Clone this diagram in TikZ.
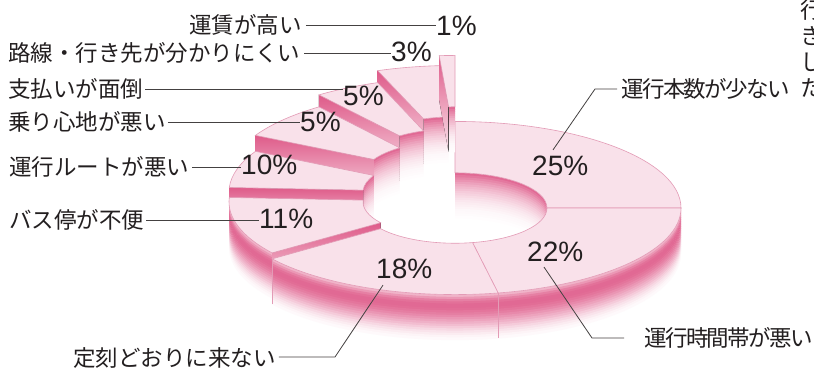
\documentclass[tikz,border=0pt]{standalone}
\usepackage{fontspec}
\newfontfamily\jpfont{Noto Sans CJK JP}
\newfontfamily\jpnarrow[LetterSpace=-7.0]{Noto Sans CJK JP}
\newfontfamily\numfont{Liberation Sans}
\definecolor{wallc}{HTML}{DA4479}
\definecolor{topc}{HTML}{F9E1EA}
\definecolor{edgec}{HTML}{E39BB6}
\definecolor{txtc}{HTML}{231F20}
\def\dCX{455}\def\dCY{-208}\def\dRO{226}\def\dRI{92}\def\dK{0.383}\def\dH{45}
\def\outprof{40,55,68,76,80,80,78,74,69,63,56,49,42,35,28,21,15,10,6,3}
\def\inprof{80,72,64,57,50,44,38,33,28,24,20,16,13,10,8,6,4,3,2,1}
\tikzset{
  jp/.style={font=\jpfont\fontsize{22.5}{26}\selectfont, text=txtc, inner sep=0pt},
  jpn/.style={font=\jpnarrow\fontsize{22.5}{26}\selectfont, text=txtc, inner sep=0pt},
  pct/.style={font=\numfont\fontsize{28}{30}\selectfont, text=txtc, inner sep=0pt},
  leader/.style={draw=txtc!85, line width=0.8pt},
  topface/.style={fill=topc, draw=edgec, line width=0.6pt},
  crease/.style={draw=edgec, line width=0.6pt}
}
\newcommand\dtopface[3]{%
  \filldraw[topface] ({\dCX+\dRO*cos(#1)},{\dCY+\dK*\dRO*sin(#1)+#3})
    arc[start angle=#1,end angle=#2,x radius=\dRO,y radius={\dK*\dRO}]
    -- ({\dCX+\dRI*cos(#2)},{\dCY+\dK*\dRI*sin(#2)+#3})
    arc[start angle=#2,end angle=#1,x radius=\dRI,y radius={\dK*\dRI}] -- cycle;}
\newcommand\dwall[5]{%
  \foreach \pp [count=\jj from 0] in #5 {%
    \pgfmathsetmacro\dza{#3-\jj*\dH/20}%
    \pgfmathsetmacro\dzb{#3-(\jj+1)*\dH/20-0.6}%
    \fill[wallc!\pp!white] ({\dCX+#4*cos(#1)},{\dCY+\dK*#4*sin(#1)+\dza})
      arc[start angle=#1,end angle=#2,x radius=#4,y radius={\dK*#4}]
      -- ({\dCX+#4*cos(#2)},{\dCY+\dK*#4*sin(#2)+\dzb})
      arc[start angle=#2,end angle=#1,x radius=#4,y radius={\dK*#4}] -- cycle;}}
\newcommand\dradial[2]{%
  \fill[top color=wallc!88!white,bottom color=wallc!15!white]
   ({\dCX+\dRI*cos(#1)},{\dCY+\dK*\dRI*sin(#1)+#2}) --
   ({\dCX+\dRO*cos(#1)},{\dCY+\dK*\dRO*sin(#1)+#2}) --
   ({\dCX+\dRO*cos(#1)},{\dCY+\dK*\dRO*sin(#1)+#2-\dH}) --
   ({\dCX+\dRI*cos(#1)},{\dCY+\dK*\dRI*sin(#1)+#2-\dH}) -- cycle;}
\newcommand\dcrease[2]{%
  \draw[crease] ({\dCX+\dRO*cos(#1)},{\dCY+\dK*\dRO*sin(#1)+#2}) -- ++(0,-\dH);}
\begin{document}
\begin{tikzpicture}[x=1pt,y=1pt]
\useasboundingbox (0,0) rectangle (814,-367);
\fill[white] (0,0) rectangle (814,-367);
% ---- back slices ----
% 25%
\dwall{0}{90}{0}{\dRI}{\inprof}
\dtopface{0}{90}{0}
% 3%
\dwall{94}{110}{56}{\dRI}{\inprof}
\dradial{110}{56}
\dtopface{94}{110}{56}
% 1%
\dwall{90}{94}{66}{\dRI}{\inprof}
\dradial{94}{66}
\dtopface{90}{94}{66}
% 5% (b)
\dwall{110}{127}{44}{\dRI}{\inprof}
\dradial{127}{44}
\dtopface{110}{127}{44}
% 5% (a)
\dwall{127}{152}{32}{\dRI}{\inprof}
\dradial{152}{32}
\dtopface{127}{152}{32}
% 10%
\dwall{152}{177}{16}{\dRI}{\inprof}
\dradial{177}{16}
\dtopface{152}{177}{16}
% ---- front slices ----
% 11%
\dwall{180}{216}{6}{\dRO}{\outprof}
\dradial{216}{6}
\dtopface{177}{216}{6}
% 22%
\dwall{281}{360}{0}{\dRO}{\outprof}
\dtopface{281}{360}{0}
% 18%
\dwall{216}{281}{0}{\dRO}{\outprof}
\dtopface{216}{281}{0}
\dcrease{281}{0}
\dcrease{216}{0}
% ---- labels ----
\node[jp,anchor=west] (l1) at (189,-25) {運賃が高い};
\node[pct,anchor=west] (p1) at (436,-26) {1\%};
\draw[leader] ([xshift=4pt]l1.east) -- (l1.east -| p1.west);
\node[jp,anchor=west] (l2) at (8,-53) {路線・行き先が分かりにくい};
\node[pct,anchor=west] (p2) at (391,-52) {3\%};
\draw[leader] ([xshift=4pt]l2.east) -- (l2.east -| p2.west);
\node[jp,anchor=west] (l3) at (8,-89) {支払いが面倒};
\node[pct,anchor=west] (p3) at (343,-96) {5\%};
\draw[leader] ([xshift=2pt]l3.east) -- (l3.east -| p3.west);
\node[jp,anchor=west] (l4) at (8,-122) {乗り心地が悪い};
\node[pct,anchor=west] (p4) at (300,-122) {5\%};
\draw[leader] ([xshift=2pt]l4.east) -- (l4.east -| p4.west);
\node[jp,anchor=west] (l5) at (9,-167) {運行ルートが悪い};
\node[pct,anchor=west] (p5) at (241,-165) {10\%};
\draw[leader] ([xshift=3pt]l5.east) -- (l5.east -| p5.west);
\node[jp,anchor=west] (l6) at (9,-220) {バス停が不便};
\node[pct,anchor=west] (p6) at (259,-219) {11\%};
\draw[leader] ([xshift=2pt]l6.east) -- (l6.east -| p6.west);
\node[jp,anchor=west] (l7) at (73,-358) {定刻どおりに来ない};
\node[pct,anchor=west] (p7) at (376,-269) {18\%};
\coordinate (k7) at (335,-357);
\draw[leader] ([xshift=3pt]l7.east |- k7) -- (k7) -- ([xshift=7pt,yshift=-6pt]p7.south west);
\node[pct,anchor=west] (p8) at (527,-252) {22\%};
\node[jpn,anchor=west] (l8) at (644,-338) {運行時間帯が悪い};
\coordinate (k8) at (592,-338);
\draw[leader] ([xshift=17pt,yshift=-5pt]p8.south west) -- (k8) -- ([xshift=-20pt]l8.west |- k8);
\node[pct,anchor=west] (p9) at (532,-166) {25\%};
\node[jpn,anchor=west] (l9) at (621,-89) {運行本数が少ない};
\coordinate (k9) at (595,-89);
\draw[leader] ([xshift=21pt,yshift=6pt]p9.north west) -- (k9) -- ([xshift=-4pt]l9.west |- k9);
% ---- cut-off vertical text at the right edge ----
\node[jp] (v1) at (812,-10) {行};
\node[jp] (v2) at (812,-36) {き};
\node[jp] (v3) at (812,-62) {し};
\node[jp] (v4) at (812,-88) {た};
\end{tikzpicture}
\end{document}
